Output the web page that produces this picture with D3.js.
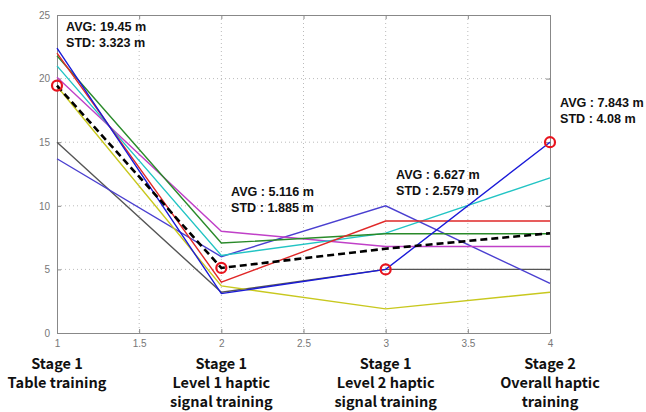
<!DOCTYPE html>
<html>
<head>
<meta charset="utf-8">
<script src="https://cdn.jsdelivr.net/npm/d3@7"></script>
<style>
  html, body { margin: 0; padding: 0; background: #fff; }
  svg { display: block; }
  .tick text { fill: #777; font-family: "Liberation Sans", Arial, sans-serif; font-size: 10px; }
  .note { font-family: "Liberation Sans", Arial, sans-serif; font-weight: bold; font-size: 12.6px; fill: #111; }
  .stage { font-family: "Noto Sans CJK KR", "Noto Sans", sans-serif; font-weight: bold; font-size: 14.5px; fill: #111; }
</style>
</head>
<body>
<svg id="chart" width="646" height="412"></svg>
<script>
// Training stages on the x axis
const stages = [1, 2, 3, 4];
const stageLabels = [
  ["Stage 1", "Table training"],
  ["Stage 1", "Level 1 haptic", "signal training"],
  ["Stage 1", "Level 2 haptic", "signal training"],
  ["Stage 2", "Overall haptic", "training"]
];

// Per-participant error distance (m) at each stage
const seriesBlue    = [22.4, 3.1, 5.0, 15.0];
const seriesRed     = [22.0, 4.0, 8.8, 8.8];
const seriesGreen   = [21.8, 7.07, 7.8, 7.8];
const seriesCyan    = [21.0, 6.1, 7.85, 12.2];
const seriesMagenta = [20.1, 8.0, 6.8, 6.8];
const seriesYellow  = [19.4, 3.7, 1.9, 3.2];
const seriesGray    = [15.0, 3.2, 5.0, 5.0];
const seriesSlate   = [13.7, 6.0, 10.0, 3.9];

// Stage averages and standard deviations
const avgValues = [19.45, 5.116, 6.627, 7.843];
const stdValues = [3.323, 1.885, 2.579, 4.08];

// Highlighted points (stage, value)
const markedX = [1, 2, 3, 4];
const markedY = [19.45, 5.116, 5.0, 15.0];

const xTicks = [1, 1.5, 2, 2.5, 3, 3.5, 4];
const yTicks = [0, 5, 10, 15, 20, 25];

const series = [
  { values: seriesGray,    color: "#555555" },
  { values: seriesSlate,   color: "#4a3fd0" },
  { values: seriesYellow,  color: "#c8c81e" },
  { values: seriesMagenta, color: "#c040c8" },
  { values: seriesCyan,    color: "#22c4c4" },
  { values: seriesGreen,   color: "#2a8a2a" },
  { values: seriesRed,     color: "#e02828" },
  { values: seriesBlue,    color: "#1a1ad8" }
];

const svg = d3.select("#chart");
const plotL = 57, plotR = 550, plotT = 15, plotB = 333;

const x = d3.scaleLinear().domain([1, 4]).range([plotL, plotR]);
const y = d3.scaleLinear().domain([0, 25]).range([plotB, plotT]);

// dotted grid
const grid = svg.append("g");
grid.selectAll("line.gx").data(xTicks.slice(1, -1)).join("line")
  .attr("class", "gx")
  .attr("x1", d => x(d)).attr("x2", d => x(d))
  .attr("y1", plotT).attr("y2", plotB)
  .attr("stroke", "#bbb").attr("stroke-width", 1).attr("stroke-dasharray", "1,3");
grid.selectAll("line.gy").data(yTicks.slice(1, -1)).join("line")
  .attr("class", "gy")
  .attr("x1", plotL).attr("x2", plotR)
  .attr("y1", d => y(d)).attr("y2", d => y(d))
  .attr("stroke", "#bbb").attr("stroke-width", 1).attr("stroke-dasharray", "1,3");

// axes with inward ticks, plus the box
const styleAxis = g => {
  g.select(".domain").attr("stroke", "#888");
  g.selectAll(".tick line").attr("stroke", "#888");
};
svg.append("g").attr("transform", `translate(0,${plotB})`)
  .call(d3.axisBottom(x).tickValues(xTicks).tickSizeInner(-4).tickSizeOuter(0).tickPadding(7)
    .tickFormat(d3.format("~g")))
  .call(styleAxis);
svg.append("g").attr("transform", `translate(${plotL},0)`)
  .call(d3.axisLeft(y).tickValues(yTicks).tickSizeInner(-4).tickSizeOuter(0).tickPadding(7))
  .call(styleAxis);
svg.append("g").attr("transform", `translate(0,${plotT})`)
  .call(d3.axisTop(x).tickValues(xTicks).tickSizeInner(-4).tickSizeOuter(0).tickFormat(""))
  .call(styleAxis);
svg.append("g").attr("transform", `translate(${plotR},0)`)
  .call(d3.axisRight(y).tickValues(yTicks).tickSizeInner(-4).tickSizeOuter(0).tickFormat(""))
  .call(styleAxis);

// participant lines
const line = d3.line().x((d, i) => x(stages[i])).y(d => y(d));
svg.append("g").selectAll("path").data(series).join("path")
  .attr("d", d => line(d.values))
  .attr("fill", "none")
  .attr("stroke", d => d.color)
  .attr("stroke-width", 1.4);

// average line
svg.append("path")
  .attr("d", line(avgValues))
  .attr("fill", "none")
  .attr("stroke", "#000")
  .attr("stroke-width", 2.6)
  .attr("stroke-dasharray", "7,4");

// highlighted points
svg.append("g").selectAll("circle").data(markedX).join("circle")
  .attr("cx", d => x(d))
  .attr("cy", (d, i) => y(markedY[i]))
  .attr("r", 5)
  .attr("fill", "none")
  .attr("stroke", "#e8141e")
  .attr("stroke-width", 2.2);

// AVG / STD notes
const notePos = [
  { x: 66,  y: 31,  sep: ":" },
  { x: 231, y: 196, sep: " :" },
  { x: 396, y: 179, sep: " :" },
  { x: 560, y: 107, sep: " :" }
];
const notes = svg.append("g");
notePos.forEach((p, i) => {
  notes.append("text").attr("class", "note").attr("x", p.x).attr("y", p.y)
    .text(`AVG${p.sep} ${avgValues[i]} m`);
  notes.append("text").attr("class", "note").attr("x", p.x).attr("y", p.y + 16)
    .text(`STD${p.sep} ${stdValues[i]} m`);
});

// stage labels under the axis
const labels = svg.append("g");
stageLabels.forEach((lines, i) => {
  lines.forEach((t, j) => {
    labels.append("text").attr("class", "stage")
      .attr("x", x(stages[i])).attr("y", 369 + j * 19)
      .attr("text-anchor", "middle").text(t);
  });
});
</script>
</body>
</html>
